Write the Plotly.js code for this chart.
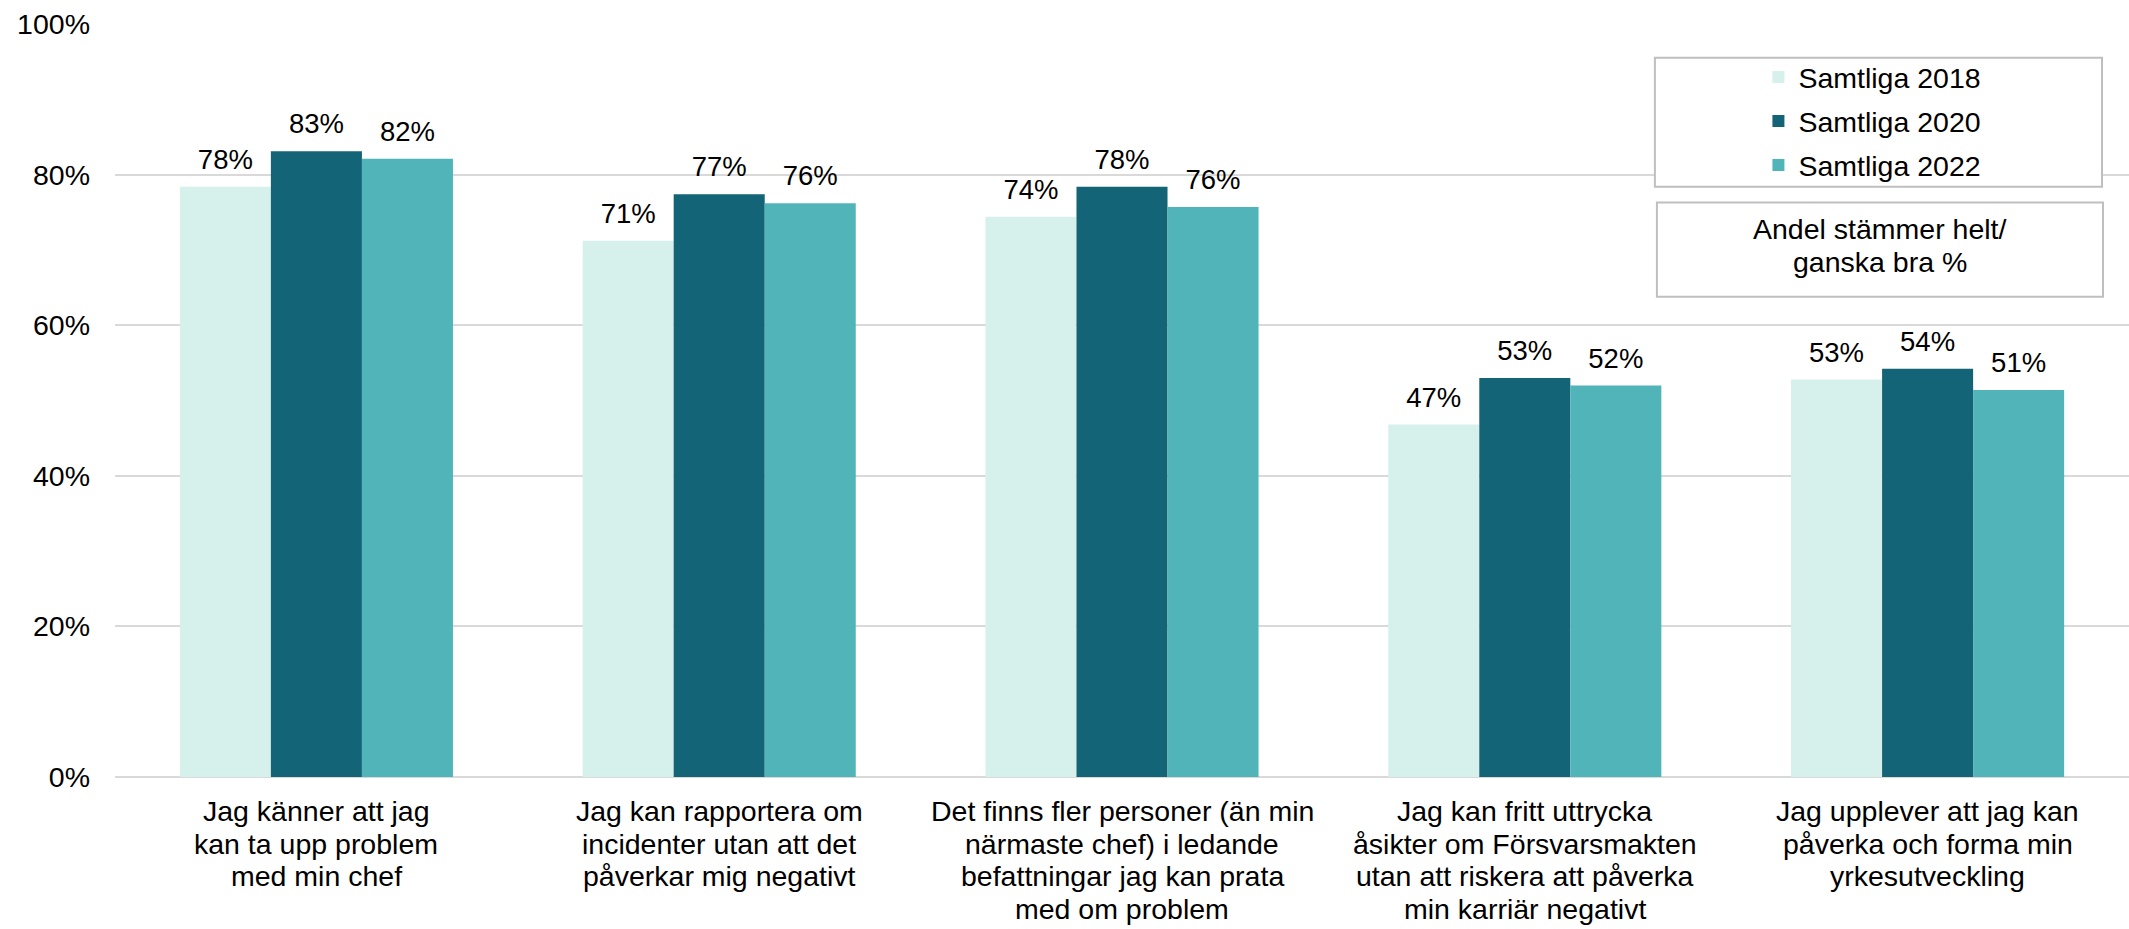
<!DOCTYPE html>
<html>
<head>
<meta charset="utf-8">
<script src="https://cdn.plot.ly/plotly-3.0.1.min.js"></script>
<style>html,body{margin:0;padding:0;background:#fff;}#chart{width:2129px;height:929px;}</style>
</head>
<body>
<div id="chart"></div>
<script>
// ---- data ----
const categories = [
  "Jag känner att jag<br>kan ta upp problem<br>med min chef",
  "Jag kan rapportera om<br>incidenter utan att det<br>påverkar mig negativt",
  "Det finns fler personer (än min<br>närmaste chef) i ledande<br>befattningar jag kan prata<br>med om problem",
  "Jag kan fritt uttrycka<br>åsikter om Försvarsmakten<br>utan att riskera att påverka<br>min karriär negativt",
  "Jag upplever att jag kan<br>påverka och forma min<br>yrkesutveckling"
];
const seriesNames = ["Samtliga 2018", "Samtliga 2020", "Samtliga 2022"];
const values2018 = [0.784, 0.712, 0.744, 0.468, 0.528];
const values2020 = [0.831, 0.774, 0.784, 0.530, 0.542];
const values2022 = [0.821, 0.762, 0.757, 0.520, 0.514];
const yTickVals = [0, 0.2, 0.4, 0.6, 0.8, 1.0];
const noteLines = ["Andel stämmer helt/", "ganska bra %"];

// ---- styling ----
const colors = ["#D6F0EB", "#136477", "#50B4B9"];
const FONT = "Arial, 'Liberation Sans', sans-serif";
const LINE = 32.5;
const allValues = [values2018, values2020, values2022];

const traces = [];
allValues.forEach((vals, i) => {
  traces.push({
    type: "bar",
    name: seriesNames[i],
    x: categories,
    y: vals,
    marker: {color: colors[i], line: {width: 0}},
    legendgroup: "g" + i,
    hoverinfo: "skip"
  });
});
allValues.forEach((vals, i) => {
  traces.push({
    type: "scatter",
    mode: "markers+text",
    x: categories,
    y: vals,
    texttemplate: "%{y:.0%}",
    textposition: "top center",
    textfont: {family: FONT, size: 27.5, color: "#000"},
    marker: {size: 16, opacity: 0},
    showlegend: false,
    legendgroup: "g" + i,
    hoverinfo: "skip"
  });
});

// category labels, one annotation per line for tighter line spacing
const annotations = [];
categories.forEach(cat => {
  cat.split("<br>").forEach((line, j) => {
    annotations.push({
      xref: "x", yref: "paper", x: cat, y: 0,
      xanchor: "center", yanchor: "top",
      yshift: -16 - LINE * j,
      text: line, showarrow: false,
      font: {family: FONT, size: 28.5, color: "#000"}
    });
  });
});
noteLines.forEach((line, j) => {
  annotations.push({
    xref: "paper", yref: "paper", x: 0.8763, y: 0.751,
    xanchor: "center", yanchor: "top",
    yshift: -LINE * j,
    text: line, showarrow: false,
    font: {family: FONT, size: 28.5, color: "#000"}
  });
});

const layout = {
  width: 2129, height: 929,
  margin: {l: 115, r: 0, t: 24, b: 152, pad: 0},
  paper_bgcolor: "#fff", plot_bgcolor: "#fff",
  font: {family: FONT, size: 28.5, color: "#000"},
  barmode: "group", bargap: 0.322, bargroupgap: 0,
  scattermode: "group", scattergap: 0.322,
  showlegend: true,
  legend: {
    x: 0.816, xanchor: "left", y: 0.963, yanchor: "top",
    bgcolor: "rgba(0,0,0,0)", borderwidth: 0,
    font: {family: FONT, size: 28.5, color: "#000"},
    tracegroupgap: 4, traceorder: "grouped"
  },
  xaxis: {
    type: "category", showticklabels: false, showgrid: false,
    zeroline: false, showline: false, ticks: "", fixedrange: true
  },
  yaxis: {
    range: [0, 1], tickvals: yTickVals, tickformat: ".0%",
    showgrid: true, gridcolor: "#D9D9D9", gridwidth: 2,
    zeroline: true, zerolinecolor: "#D9D9D9", zerolinewidth: 2,
    showline: false, ticks: "", ticklabelstandoff: 24,
    tickfont: {family: FONT, size: 28.5, color: "#000"}, fixedrange: true
  },
  shapes: [{
    type: "rect", xref: "paper", yref: "paper",
    x0: 0.7646, x1: 0.9866, y0: 0.7839, y1: 0.9553,
    line: {color: "#BFBFBF", width: 2}, fillcolor: "#fff", layer: "above"
  }, {
    type: "rect", xref: "paper", yref: "paper",
    x0: 0.7656, x1: 0.9871, y0: 0.6377, y1: 0.763,
    line: {color: "#BFBFBF", width: 2}, fillcolor: "#fff", layer: "above"
  }],
  annotations: annotations
};

Plotly.newPlot("chart", traces, layout, {displayModeBar: false, staticPlot: true});
</script>
</body>
</html>
